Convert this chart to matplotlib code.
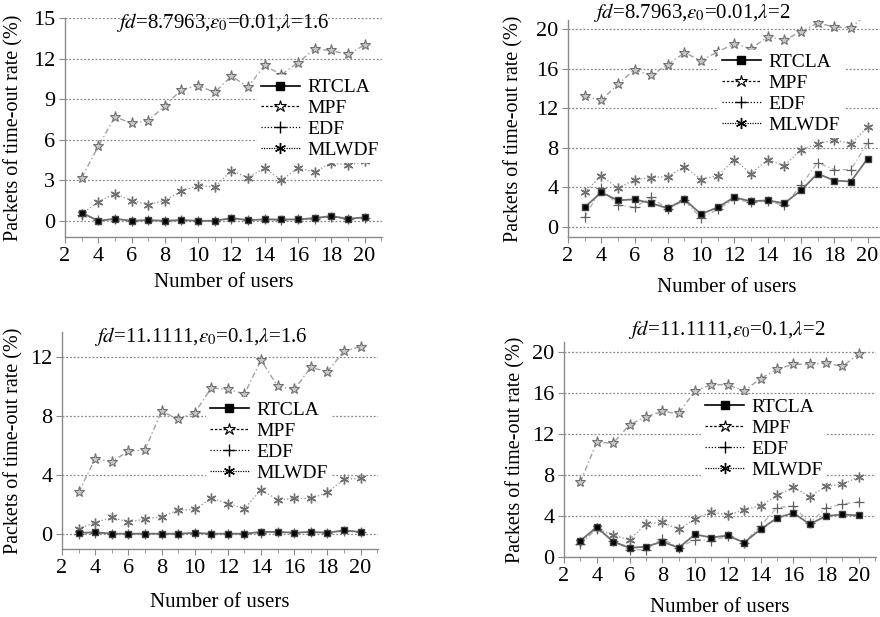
import matplotlib
matplotlib.use("Agg")
import matplotlib.pyplot as plt
from matplotlib.lines import Line2D
from matplotlib.ticker import MultipleLocator

plt.rcParams['font.family'] = ['Liberation Serif', 'DejaVu Serif']
plt.rcParams['mathtext.fontset'] = 'stix'

# -------- DATA --------
users = list(range(3, 21))

# fd=8.7963, eps0=0.01, lambda=1.6
a_rtcla = [0.6, 0.0, 0.15, 0.0, 0.05, 0.0, 0.05, 0.0, 0.0, 0.2, 0.05, 0.1, 0.1, 0.1, 0.2, 0.35, 0.15, 0.25]
a_mpf   = [3.2, 5.5, 7.7, 7.2, 7.4, 8.5, 9.7, 10.0, 9.5, 10.7, 9.9, 11.5, 10.8, 11.7, 12.7, 12.6, 12.3, 13.0]
a_edf   = [0.4, 0.05, 0.1, 0.0, 0.05, 0.0, 0.05, 0.0, 0.0, 0.15, 0.05, 0.1, 0.05, 0.1, 0.15, 0.3, 0.1, 0.2]
a_mlwdf = [0.5, 1.4, 2.0, 1.5, 1.2, 1.5, 2.2, 2.6, 2.5, 3.7, 3.2, 3.9, 3.0, 3.9, 3.6, 4.3, 4.1, 4.4]

# fd=8.7963, eps0=0.01, lambda=2
b_rtcla = [2.0, 3.5, 2.7, 2.8, 2.4, 1.9, 2.8, 1.3, 2.0, 3.0, 2.6, 2.7, 2.4, 3.7, 5.4, 4.7, 4.6, 6.9]
b_mpf   = [13.2, 12.8, 14.4, 15.9, 15.3, 16.4, 17.6, 16.8, 17.7, 18.5, 18.0, 19.2, 18.9, 19.7, 20.6, 20.2, 20.1, 21.6]
b_edf   = [1.0, 3.9, 2.2, 2.0, 3.0, 1.8, 2.7, 0.9, 1.8, 2.8, 2.5, 2.6, 2.2, 4.2, 6.5, 5.8, 5.8, 8.5]
b_mlwdf = [3.5, 5.2, 3.9, 4.8, 5.0, 5.1, 6.1, 4.8, 5.2, 6.8, 5.4, 6.8, 6.2, 7.8, 8.4, 8.8, 8.4, 10.1]

# fd=11.1111, eps0=0.1, lambda=1.6
c_rtcla = [0.05, 0.1, 0.0, 0.0, 0.0, 0.0, 0.0, 0.05, 0.0, 0.0, 0.0, 0.12, 0.12, 0.07, 0.12, 0.07, 0.22, 0.12]
c_mpf   = [2.8, 5.1, 4.9, 5.6, 5.7, 8.3, 7.8, 8.2, 9.9, 9.8, 9.5, 11.8, 10.0, 9.8, 11.3, 11.0, 12.4, 12.7]
c_edf   = [0.0, 0.05, 0.0, 0.0, 0.0, 0.0, 0.0, 0.03, 0.0, 0.0, 0.0, 0.08, 0.1, 0.05, 0.1, 0.05, 0.18, 0.1]
c_mlwdf = [0.35, 0.75, 1.1, 0.8, 1.0, 1.15, 1.6, 1.65, 2.4, 2.05, 1.7, 3.0, 2.3, 2.4, 2.4, 2.8, 3.7, 3.75]

# fd=11.1111, eps0=0.1, lambda=2
d_rtcla = [1.6, 2.9, 1.5, 0.9, 1.0, 1.5, 0.9, 2.2, 1.9, 2.1, 1.4, 2.7, 3.8, 4.3, 3.2, 4.0, 4.15, 4.05]
d_mpf   = [7.3, 11.2, 11.1, 12.9, 13.7, 14.2, 14.0, 16.2, 16.8, 16.8, 16.2, 17.4, 18.3, 18.8, 18.8, 18.9, 18.6, 19.8]
d_edf   = [1.3, 2.7, 1.6, 0.7, 0.7, 1.8, 0.9, 1.7, 1.6, 2.0, 1.4, 3.05, 4.8, 5.0, 3.3, 4.8, 5.15, 5.4]
d_mlwdf = [1.5, 2.8, 2.1, 1.7, 3.2, 3.4, 2.7, 3.7, 4.4, 4.1, 4.6, 5.0, 6.0, 6.8, 5.9, 6.9, 7.1, 7.8]

labels = ["RTCLA", "MPF", "EDF", "MLWDF"]
titles = [r"$fd$=8.7963,$\varepsilon_0$=0.01,$\lambda$=1.6",
          r"$fd$=8.7963,$\varepsilon_0$=0.01,$\lambda$=2",
          r"$fd$=11.1111,$\varepsilon_0$=0.1,$\lambda$=1.6",
          r"$fd$=11.1111,$\varepsilon_0$=0.1,$\lambda$=2"]

W, H = 880, 617
fig = plt.figure(figsize=(8.8, 6.17), dpi=100)

def px_axes(x0, y0, x1, y1):
    # pixel box (left, top, right, bottom) -> figure axes
    return fig.add_axes([x0 / W, 1 - y1 / H, (x1 - x0) / W, (y1 - y0) / H])

ASTER = (6, 2, 0)

def draw(ax, series, title, ylim, ystep, title_xy, leg_anchor, ylab_x, xlab_y):
    rt, mp, ed, ml = series
    ax.plot(users, mp, linestyle=(0, (4, 2, 1, 2)), color='#a0a0a0', lw=1.0,
            marker='*', ms=8, mfc='#c8c8c8', mec='#707070', mew=0.8, zorder=3)
    ax.plot(users, ml, linestyle=(0, (1, 1.5)), color='#a0a0a0', lw=1.0,
            marker=ASTER, ms=7, mfc='#808080', mec='#707070', mew=1.0, zorder=3)
    ax.plot(users, ed, linestyle=(0, (4, 2, 1, 2)), color='#b0b0b0', lw=0.9,
            marker='+', ms=7, mec='#606060', mew=0.9, zorder=4)
    ax.plot(users, rt, linestyle='-', color='#707070', lw=1.3,
            marker='s', ms=5, mfc='black', mec='#404040', zorder=5)

    ax.set_xlim(2, 21.05)
    ax.set_ylim(*ylim)
    ax.xaxis.set_major_locator(MultipleLocator(2))
    ax.xaxis.set_minor_locator(MultipleLocator(1))
    ax.yaxis.set_major_locator(MultipleLocator(ystep))
    ax.grid(axis='y', linestyle=(0, (1.5, 1.5)), color='#8a8a8a', lw=0.9)
    for s in ['top', 'right']:
        ax.spines[s].set_visible(False)
    for s in ['left', 'bottom']:
        ax.spines[s].set_color('#8a8a8a')
        ax.spines[s].set_linewidth(1.0)
    ax.tick_params(which='both', direction='out', colors='#8a8a8a',
                   labelcolor='black', labelsize=16, pad=3)
    ax.tick_params(which='major', length=4)
    ax.tick_params(which='minor', length=3)
    ax.set_xlabel("Number of users", fontsize=15)
    ax.set_ylabel("Packets of time-out rate (%)", fontsize=14.5)
    ax.yaxis.set_label_coords(ylab_x, 0.5)
    ax.xaxis.set_label_coords(0.5, xlab_y)

    fig.text(title_xy[0] / W, 1 - title_xy[1] / H, title,
             fontsize=15, ha='center', va='center')

    handles = [
        Line2D([], [], color='black', lw=1.2, marker='s', ms=6, mfc='black'),
        Line2D([], [], color='black', lw=0.9, linestyle=(0, (2, 1.5)),
               marker='*', ms=9, mfc='white', mec='black', mew=0.8),
        Line2D([], [], color='black', lw=0.9, linestyle=(0, (1, 1.5)),
               marker='+', ms=9, mew=1.0),
        Line2D([], [], color='black', lw=0.9, linestyle=(0, (1, 1)),
               marker=ASTER, ms=8, mew=1.0),
    ]
    leg = ax.legend(handles, labels, loc='upper left', bbox_to_anchor=leg_anchor,
                    fontsize=14, frameon=True, framealpha=1, facecolor='white',
                    edgecolor='none', fancybox=False, borderpad=0.2,
                    labelspacing=0.17, handlelength=2.0, handletextpad=0.4)
    leg.set_zorder(6)

ax1 = px_axes(65, 18, 382, 237)
draw(ax1, (a_rtcla, a_mpf, a_edf, a_mlwdf), titles[0], (-1.2, 15), 3,
     (223, 23), (0.575, 0.785), -0.13, -0.165)

ax2 = px_axes(568, 20, 885, 237)
draw(ax2, (b_rtcla, b_mpf, b_edf, b_mlwdf), titles[1], (-1.0, 20.9), 4,
     (692, 13), (0.442, 0.908), -0.142, -0.19)

ax3 = px_axes(62, 332, 378, 549)
draw(ax3, (c_rtcla, c_mpf, c_edf, c_mlwdf), titles[2], (-1.04, 13.7), 4,
     (201, 337), (0.425, 0.744), -0.123, -0.205)

ax4 = px_axes(564, 342, 876, 557)
draw(ax4, (d_rtcla, d_mpf, d_edf, d_mlwdf), titles[3], (0, 20.97), 4,
     (727, 330), (0.409, 0.80), -0.125, -0.19)

fig.savefig("out.png", dpi=100, facecolor='white')
